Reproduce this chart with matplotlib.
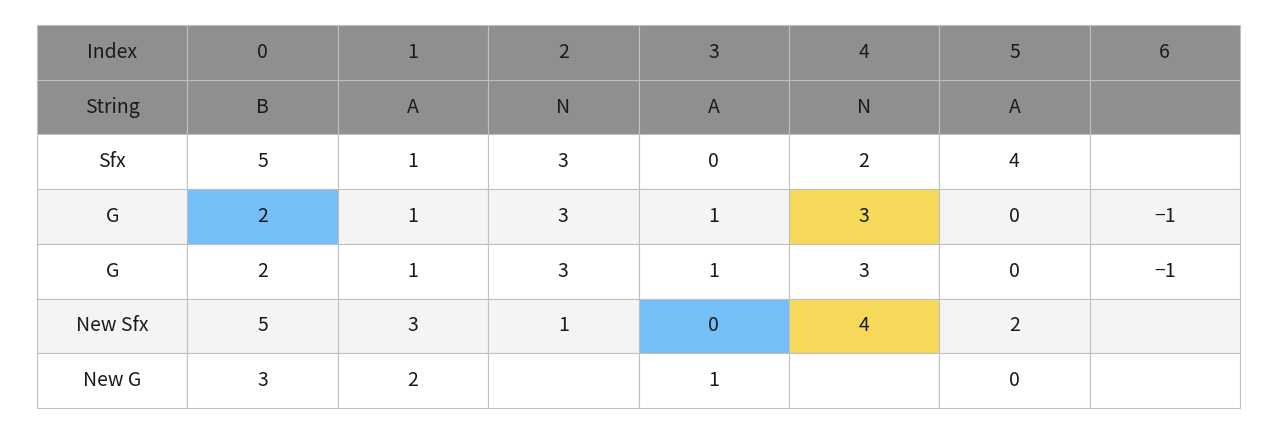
import matplotlib.pyplot as plt

plt.rcParams['font.family'] = ['Noto Sans CJK KR', 'DejaVu Sans']

row_labels = ["Index", "String", "Sfx", "G", "G", "New Sfx", "New G"]
index_row = ["0", "1", "2", "3", "4", "5", "6"]
string_row = ["B", "A", "N", "A", "N", "A", ""]
sfx_row = ["5", "1", "3", "0", "2", "4", ""]
g_row1 = ["2", "1", "3", "1", "3", "0", "-1"]
g_row2 = ["2", "1", "3", "1", "3", "0", "-1"]
new_sfx_row = ["5", "3", "1", "0", "4", "2", ""]
new_g_row = ["3", "2", "", "1", "", "0", ""]

# highlighted cells: (row, col) -> colour, col counted among value columns
highlights = {(3, 0): "#74bff7", (3, 4): "#f7d95a",
              (5, 3): "#74bff7", (5, 4): "#f7d95a"}

rows = [index_row, string_row, sfx_row, g_row1, g_row2, new_sfx_row, new_g_row]
cells = [[lab] + r for lab, r in zip(row_labels, rows)]

colours = []
for i, r in enumerate(cells):
    if i < 2:
        base = "#8f8f8f"
    elif i % 2 == 1:
        base = "#f4f4f4"
    else:
        base = "#ffffff"
    row_c = []
    for j in range(len(r)):
        row_c.append(highlights.get((i, j - 1), base))
    colours.append(row_c)

fig = plt.figure(figsize=(12.88, 4.36), dpi=100)
ax = fig.add_axes([37 / 1288, 1 - 408 / 436, 1203 / 1288, 383 / 436])
ax.axis("off")
tbl = ax.table(cellText=cells, cellColours=colours, cellLoc="center",
               bbox=[0, 0, 1, 1])
tbl.auto_set_font_size(False)
for (i, j), c in tbl.get_celld().items():
    c.set_edgecolor("#c0c0c0")
    c.set_linewidth(0.8)
    c.get_text().set_fontsize(14)
    c.get_text().set_color("#1a1a1a")
    if c.get_text().get_text() == "-1":
        c.get_text().set_text("−1")

fig.savefig("out.png", dpi=100)
